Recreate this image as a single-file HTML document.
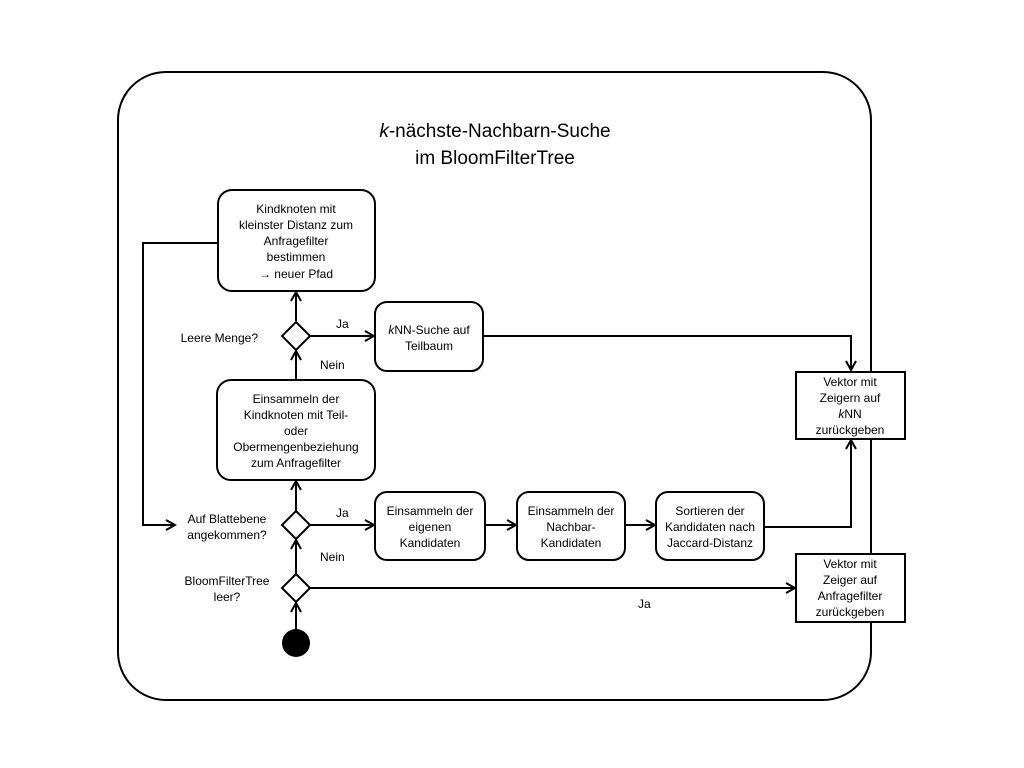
<!DOCTYPE html>
<html><head><meta charset="utf-8"><style>
html,body{margin:0;padding:0;background:#fff;}
svg{display:block;}
text{font-family:"Liberation Sans",sans-serif;font-size:12px;fill:#000;}
</style></head><body>
<svg width="1024" height="768" viewBox="0 0 1024 768">
<defs>
<marker id="a" markerWidth="12" markerHeight="12" refX="10" refY="6" orient="auto" markerUnits="userSpaceOnUse">
<path d="M1,1 L10,6 L1,11" fill="none" stroke="#000" stroke-width="2"/>
</marker>
</defs>
<rect x="118" y="72" width="753" height="628" rx="48" ry="48" fill="none" stroke="#000" stroke-width="2"/>
<text x="495" y="137" text-anchor="middle" style="font-size:19px"><tspan font-style="italic">k</tspan>-nächste-Nachbarn-Suche</text>
<text x="495" y="164" text-anchor="middle" style="font-size:19px">im BloomFilterTree</text>

<g fill="none" stroke="#000" stroke-width="2">
<!-- connectors -->
<path d="M218,243 H143 V525 H175" marker-end="url(#a)"/>
<path d="M296,321 V292" marker-end="url(#a)"/>
<path d="M310,336 H374" marker-end="url(#a)"/>
<path d="M296,380 V351" marker-end="url(#a)"/>
<path d="M483,336 H851 V370" marker-end="url(#a)"/>
<path d="M296,511 V481" marker-end="url(#a)"/>
<path d="M310,525 H374" marker-end="url(#a)"/>
<path d="M485,525 H516" marker-end="url(#a)"/>
<path d="M625,525 H655" marker-end="url(#a)"/>
<path d="M764,527 H851 V440" marker-end="url(#a)"/>
<path d="M296,574 V540" marker-end="url(#a)"/>
<path d="M310,588 H795" marker-end="url(#a)"/>
<path d="M296,629 V603" marker-end="url(#a)"/>
</g>
<g fill="#fff" stroke="#000" stroke-width="2">
<rect x="218" y="190" width="157" height="101" rx="14"/>
<rect x="375" y="302" width="108" height="69" rx="12"/>
<rect x="217" y="380" width="158" height="100" rx="14"/>
<rect x="375" y="492" width="110" height="68" rx="12"/>
<rect x="517" y="492" width="108" height="68" rx="12"/>
<rect x="656" y="492" width="108" height="68" rx="12"/>
<rect x="796" y="372" width="109" height="67"/>
<rect x="796" y="554" width="109" height="68"/>
<path d="M296,322 L310,336 L296,350 L282,336 Z"/>
<path d="M296,511 L310,525 L296,539 L282,525 Z"/>
<path d="M296,574 L310,588 L296,602 L282,588 Z"/>
</g>
<circle cx="296" cy="643" r="14" fill="#000"/>

<g text-anchor="middle">
<text x="296" y="213">Kindknoten mit</text>
<text x="296" y="229">kleinster Distanz zum</text>
<text x="296" y="245">Anfragefilter</text>
<text x="296" y="261">bestimmen</text>
<text x="296" y="278">→ neuer Pfad</text>
<text x="429" y="334"><tspan font-style="italic">k</tspan>NN-Suche auf</text>
<text x="429" y="350">Teilbaum</text>
<text x="296" y="403">Einsammeln der</text>
<text x="296" y="419">Kindknoten mit Teil-</text>
<text x="296" y="435">oder</text>
<text x="296" y="451">Obermengenbeziehung</text>
<text x="296" y="467">zum Anfragefilter</text>
<text x="430" y="515">Einsammeln der</text>
<text x="430" y="531">eigenen</text>
<text x="430" y="547">Kandidaten</text>
<text x="571" y="515">Einsammeln der</text>
<text x="571" y="531">Nachbar-</text>
<text x="571" y="547">Kandidaten</text>
<text x="710" y="515">Sortieren der</text>
<text x="710" y="531">Kandidaten nach</text>
<text x="710" y="547">Jaccard-Distanz</text>
<text x="850" y="386">Vektor mit</text>
<text x="850" y="402">Zeigern auf</text>
<text x="850" y="418"><tspan font-style="italic">k</tspan>NN</text>
<text x="850" y="434">zurückgeben</text>
<text x="850" y="568">Vektor mit</text>
<text x="850" y="584">Zeiger auf</text>
<text x="850" y="600">Anfragefilter</text>
<text x="850" y="616">zurückgeben</text>
<text x="227" y="523">Auf Blattebene</text>
<text x="227" y="539">angekommen?</text>
<text x="227" y="585">BloomFilterTree</text>
<text x="227" y="601">leer?</text>
</g>
<text x="258" y="342" text-anchor="end">Leere Menge?</text>
<text x="336" y="328">Ja</text>
<text x="320" y="369">Nein</text>
<text x="336" y="517">Ja</text>
<text x="320" y="561">Nein</text>
<text x="638" y="608">Ja</text>
</svg>
</body></html>
